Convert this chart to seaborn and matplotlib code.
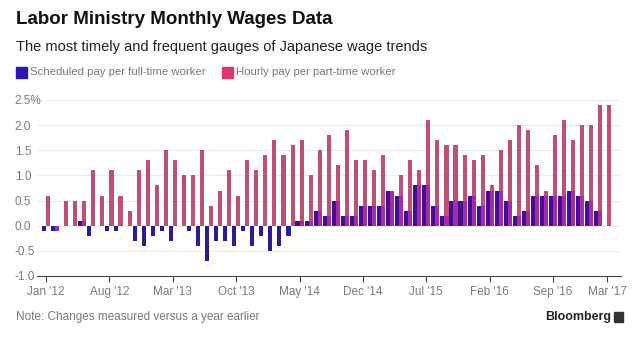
import numpy as np
import pandas as pd
import matplotlib
matplotlib.use("Agg")
import matplotlib.pyplot as plt
from matplotlib.patches import Rectangle
import seaborn as sns

# ---- data (monthly, Jan 2012 .. Mar 2017), % change y/y ----
scheduled = [-0.1, -0.1, 0.0, 0.0, 0.1, -0.2, 0.0, -0.1, -0.1, 0.0, -0.3, -0.4,
             -0.2, -0.1, -0.3, 0.0, -0.1, -0.4, -0.7, -0.3, -0.3, -0.4, -0.1, -0.4,
             -0.2, -0.5, -0.4, -0.2, 0.1, 0.1, 0.3, 0.2, 0.5, 0.2, 0.2, 0.4,
             0.4, 0.4, 0.7, 0.6, 0.3, 0.8, 0.8, 0.4, 0.2, 0.5, 0.5, 0.6,
             0.4, 0.7, 0.7, 0.5, 0.2, 0.3, 0.6, 0.6, 0.6, 0.6, 0.7, 0.6,
             0.5, 0.3, np.nan]
hourly = [0.6, -0.1, 0.5, 0.5, 0.5, 1.1, 0.6, 1.1, 0.6, 0.3, 1.1, 1.3,
          0.8, 1.5, 1.3, 1.0, 1.0, 1.5, 0.4, 0.7, 1.1, 0.6, 1.3, 1.1,
          1.4, 1.7, 1.4, 1.6, 1.7, 1.0, 1.5, 1.8, 1.2, 1.9, 1.3, 1.3,
          1.1, 1.4, 0.7, 1.0, 1.3, 1.1, 2.1, 1.7, 1.6, 1.6, 1.4, 1.3,
          1.4, 0.8, 1.5, 1.7, 2.0, 1.9, 1.2, 0.7, 1.8, 2.1, 1.7, 2.0,
          2.0, 2.4, 2.4]
series_names = ["Scheduled pay per full-time worker", "Hourly pay per part-time worker"]
tick_months = [0, 7, 14, 21, 28, 35, 42, 49, 56, 62]
tick_labels = ["Jan '12", "Aug '12", "Mar '13", "Oct '13", "May '14", "Dec '14",
               "Jul '15", "Feb '16", "Sep '16", "Mar '17"]
ytick_vals = [-1.0, -0.5, 0.0, 0.5, 1.0, 1.5, 2.0, 2.5]
ytick_labels = ["-1.0", "-0.5", "0.0", "0.5", "1.0", "1.5", "2.0", "2.5%"]

NAVY = "#2b1b9a"
PURPLE = "#4a0c8e"
PINK = "#d23c6f"
MAGENTA = "#a22cae"
LEG_BLUE = "#2a18b0"
LEG_PINK = "#e2356b"
GRAY = "#7a7a7a"

sns.set_style("white")
plt.rcParams["font.family"] = ["Liberation Sans", "DejaVu Sans"]

n = len(hourly)
df = pd.DataFrame({
    "month": list(range(n)) * 2,
    "value": scheduled + hourly,
    "series": [series_names[0]] * n + [series_names[1]] * n,
}).dropna()

fig = plt.figure(figsize=(6.4, 3.39), dpi=100)
ax = fig.add_axes([37 / 640, (339 - 276) / 339, 584 / 640, (276 - 100) / 339])

sns.barplot(data=df, x="month", y="value", hue="series", hue_order=series_names,
            order=list(range(n)), palette=[NAVY, PINK], dodge=True, width=0.9,
            errorbar=None, legend=False, linewidth=0, ax=ax)

# recolour scheduled bars and add overlap tint on the hourly column
blue_bars = {int(round(p.get_x() + p.get_width() / 2 + 0.225)): p for p in ax.containers[0]}
pink_bars = {int(round(p.get_x() + p.get_width() / 2 - 0.225)): p for p in ax.containers[1]}
for m, p in blue_bars.items():
    v = scheduled[m]
    p.set_facecolor(NAVY if v < 0 else PURPLE)
for m, p in pink_bars.items():
    b, h = scheduled[m], hourly[m]
    if not np.isnan(b) and b * h > 0:
        ov = np.sign(h) * min(abs(b), abs(h))
        ax.bar(p.get_x() + p.get_width() / 2, ov, width=p.get_width(),
               color=MAGENTA, linewidth=0, zorder=3)

ax.set_xlim(-1.0, 63.5)
ax.set_ylim(-1.0, 2.5)
for y in ytick_vals[1:]:
    ax.axhline(y, color="#ededed", lw=0.8, zorder=0)

ax.set_xticks(tick_months)
ax.set_xticklabels(tick_labels, fontsize=8.5, color=GRAY)
ax.set_yticks(ytick_vals)
ax.set_yticklabels(ytick_labels, fontsize=8.5, color=GRAY)
ax.tick_params(axis="x", length=4, width=0.8, color="#444444", pad=3, bottom=True)
ax.tick_params(axis="y", length=0, pad=16)
for lab in ax.get_yticklabels():
    lab.set_horizontalalignment("left")
ax.set_xlabel("")
ax.set_ylabel("")
for s in ["top", "right", "left"]:
    ax.spines[s].set_visible(False)
ax.spines["bottom"].set_color("#444444")
ax.spines["bottom"].set_linewidth(0.8)

# titles
fig.text(16 / 640, 1 - 19 / 339, "Labor Ministry Monthly Wages Data",
         fontsize=13.5, fontweight="bold", color="#111111", va="center", ha="left")
fig.text(16 / 640, 1 - 47 / 339, "The most timely and frequent gauges of Japanese wage trends",
         fontsize=10.5, color="#222222", va="center", ha="left")

# legend
for x0, col, label in [(16, LEG_BLUE, series_names[0]), (222, LEG_PINK, series_names[1])]:
    fig.patches.append(Rectangle((x0 / 640, 1 - 78 / 339), 11 / 640, 11 / 339,
                                 transform=fig.transFigure, color=col, figure=fig))
    fig.text((x0 + 14) / 640, 1 - 72 / 339, label, fontsize=8.2, color=GRAY,
             va="center", ha="left")

# footer
fig.text(16 / 640, 1 - 317 / 339, "Note: Changes measured versus a year earlier",
         fontsize=8.5, color=GRAY, va="center", ha="left")
fig.text(611 / 640, 1 - 317 / 339, "Bloomberg", fontsize=9, fontweight="bold",
         color="#222222", va="center", ha="right")
fig.patches.append(Rectangle((614 / 640, 1 - 322 / 339), 9 / 640, 10 / 339,
                             transform=fig.transFigure, color="#333333", figure=fig))

fig.savefig("out.png", dpi=100)
